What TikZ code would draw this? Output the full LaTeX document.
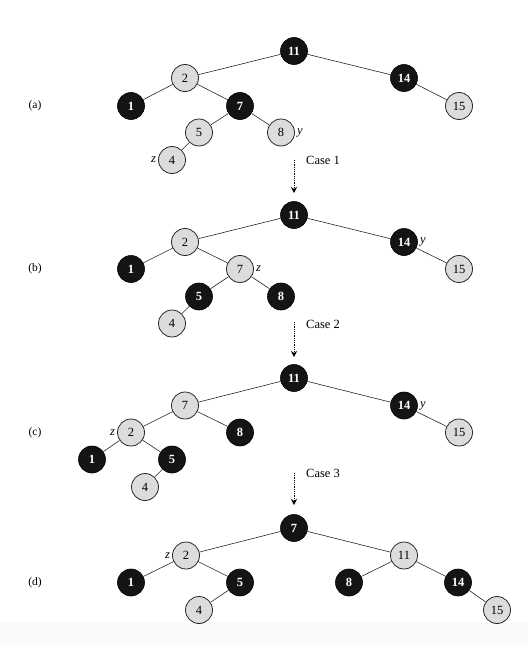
\documentclass[tikz,border=0pt]{standalone}
\usepackage{fontspec}
\setmainfont{Liberation Serif}
\usetikzlibrary{arrows.meta}
\definecolor{nodegray}{HTML}{DCDCDC}
\definecolor{bandgray}{HTML}{FAFAFA}
\begin{document}
\begin{tikzpicture}[x=1pt,y=-1pt,
 bn/.style={circle,fill=black!92,draw=black,line width=0.6pt,minimum size=27pt,inner sep=0pt,text=white,font=\fontsize{12.5}{13}\selectfont\bfseries},
 rn/.style={circle,fill=nodegray,draw=black!85,line width=0.8pt,minimum size=27pt,inner sep=0pt,font=\fontsize{12.5}{13}\selectfont},
 ed/.style={draw=black!85,line width=0.6pt},
 tag/.style={font=\fontsize{12.5}{13}\selectfont\itshape,inner sep=2pt},
 lbl/.style={font=\fontsize{11.5}{12}\selectfont},
 case/.style={font=\fontsize{12.5}{13}\selectfont,anchor=west,inner sep=0pt},
 arr/.style={densely dotted,line width=0.8pt,-{Stealth[length=6pt,width=6pt]}}
]
\useasboundingbox (0,0) rectangle (528,645);
\fill[bandgray] (0,622) rectangle (528,645);

% ---------- (a)
\node[lbl] (la) at (35,106) {(a)};
\node[bn] (a11) at (294,51) {11};
\node[rn] (a2) at (185,78) {2};
\node[bn] (a14) at (404,78) {14};
\node[bn] (a1) at (131,106) {1};
\node[bn] (a7) at (240,106) {7};
\node[rn] (a15) at (459,106) {15};
\node[rn] (a5) at (199,132.5) {5};
\node[rn] (a8) at (281,132.5) {8};
\node[rn] (a4) at (172,160) {4};
\node[tag,anchor=west] (ay) at (a8.east) {y};
\node[tag,anchor=east] (az) at (a4.west) {z};
\draw[ed] (a11) -- (a2);
\draw[ed] (a11) -- (a14);
\draw[ed] (a2) -- (a1);
\draw[ed] (a2) -- (a7);
\draw[ed] (a14) -- (a15);
\draw[ed] (a7) -- (a5);
\draw[ed] (a7) -- (a8);
\draw[ed] (a5) -- (a4);

% arrow 1
\coordinate (s1) at (294,160);
\coordinate (e1) at (294,193);
\draw[arr] (s1) -- (e1);
\node[case] (c1t) at (306,160) {Case 1};

% ---------- (b)
\node[lbl] (lb) at (35,269) {(b)};
\node[bn] (b11) at (294,215) {11};
\node[rn] (b2) at (185,242) {2};
\node[bn] (b14) at (404,242) {14};
\node[bn] (b1) at (131,269) {1};
\node[rn] (b7) at (240,269) {7};
\node[rn] (b15) at (459,269) {15};
\node[bn] (b5) at (199,296.5) {5};
\node[bn] (b8) at (281,296.5) {8};
\node[rn] (b4) at (172,323.5) {4};
\node[tag,anchor=west] (by) at (b14.east) {y};
\node[tag,anchor=west] (bz) at (b7.east) {z};
\draw[ed] (b11) -- (b2);
\draw[ed] (b11) -- (b14);
\draw[ed] (b2) -- (b1);
\draw[ed] (b2) -- (b7);
\draw[ed] (b14) -- (b15);
\draw[ed] (b7) -- (b5);
\draw[ed] (b7) -- (b8);
\draw[ed] (b5) -- (b4);

% arrow 2
\coordinate (s2) at (294,322);
\coordinate (e2) at (294,357);
\draw[arr] (s2) -- (e2);
\node[case] (c2t) at (306,324) {Case 2};

% ---------- (c)
\node[lbl] (lc) at (35,432.5) {(c)};
\node[bn] (c11) at (294,378) {11};
\node[rn] (c7) at (185,405.5) {7};
\node[bn] (c14) at (404,405.5) {14};
\node[rn] (c2) at (131,432.5) {2};
\node[bn] (c8) at (240,432.5) {8};
\node[rn] (c15) at (459,432.5) {15};
\node[bn] (c1) at (92,459.5) {1};
\node[bn] (c5) at (172,459.5) {5};
\node[rn] (c4) at (145,487) {4};
\node[tag,anchor=west] (cy) at (c14.east) {y};
\node[tag,anchor=east] (cz) at (c2.west) {z};
\draw[ed] (c11) -- (c7);
\draw[ed] (c11) -- (c14);
\draw[ed] (c7) -- (c2);
\draw[ed] (c7) -- (c8);
\draw[ed] (c14) -- (c15);
\draw[ed] (c2) -- (c1);
\draw[ed] (c2) -- (c5);
\draw[ed] (c5) -- (c4);

% arrow 3
\coordinate (s3) at (294,473);
\coordinate (e3) at (294,505);
\draw[arr] (s3) -- (e3);
\node[case] (c3t) at (306,473) {Case 3};

% ---------- (d)
\node[lbl] (ld) at (35,582.5) {(d)};
\node[bn] (d7) at (294,528) {7};
\node[rn] (d2) at (186,555.5) {2};
\node[rn] (d11) at (404,555.5) {11};
\node[bn] (d1) at (131,582.5) {1};
\node[bn] (d5) at (240,582.5) {5};
\node[bn] (d8) at (349,582.5) {8};
\node[bn] (d14) at (458,582.5) {14};
\node[rn] (d4) at (199,610) {4};
\node[rn] (d15) at (497,610) {15};
\node[tag,anchor=east] (dz) at (d2.west) {z};
\draw[ed] (d7) -- (d2);
\draw[ed] (d7) -- (d11);
\draw[ed] (d2) -- (d1);
\draw[ed] (d2) -- (d5);
\draw[ed] (d11) -- (d8);
\draw[ed] (d11) -- (d14);
\draw[ed] (d5) -- (d4);
\draw[ed] (d14) -- (d15);
\end{tikzpicture}
\end{document}
